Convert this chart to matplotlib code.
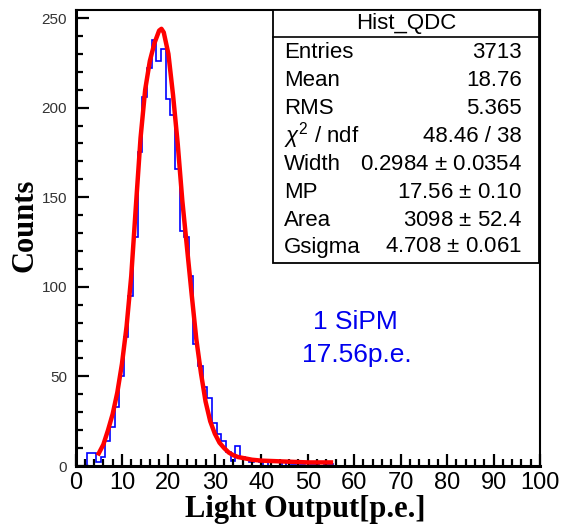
import numpy as np
import matplotlib
matplotlib.use('Agg')
import matplotlib.pyplot as plt
from matplotlib.patches import Rectangle
from matplotlib.ticker import MultipleLocator

# QDC spectrum in p.e., one bin per p.e. starting at 2.4
bin_start = 2.4
counts = [7, 7, 2, 5, 14, 22, 33, 50, 72, 95,
          128, 175, 206, 222, 238, 226, 233, 205, 196, 166,
          131, 128, 106, 68, 56, 44, 38, 24, 18, 14,
          8, 3, 11, 5, 4, 2, 3, 2, 0, 2,
          2, 3, 0, 2, 1, 2, 1, 2, 1, 1,
          0, 1, 1]

# Landau (x) Gauss fit curve over 5 - 55 p.e.
fit_x = [5, 6, 7, 8, 9, 10, 11, 12, 13, 14, 15, 16, 17, 18, 18.5, 19, 20, 21,
         22, 23, 24, 25, 26, 27, 28, 29, 30, 31, 32, 33, 34, 35, 36, 38, 40,
         45, 50, 55]
fit_y = [7, 12, 20, 29, 41, 57, 78, 106, 145, 183, 210, 226, 236, 243, 244,
         242, 230, 207, 180, 148, 122, 96, 71, 52, 36, 25, 18, 13, 10, 7.5,
         6, 5, 4.5, 3.5, 3, 2.5, 2, 2]

stat_names = ['Entries', 'Mean', 'RMS', r'$\chi^{2}$ / ndf', 'Width', 'MP',
              'Area', 'Gsigma']
stat_values = ['3713', '18.76', '5.365', '48.46 / 38', '0.2984 $\\pm$ 0.0354',
               '17.56 $\\pm$ 0.10', '3098 $\\pm$ 52.4', '4.708 $\\pm$ 0.061']

W, H = 561, 526
fig = plt.figure(figsize=(W / 100, H / 100), dpi=100)
fig.patch.set_facecolor('white')
plt.rcParams['mathtext.fontset'] = 'custom'
plt.rcParams['mathtext.rm'] = 'Liberation Sans'
plt.rcParams['mathtext.it'] = 'Liberation Sans:italic'

def fx(px):
    return px / W

def fy(py):
    return 1 - py / H

ax = fig.add_axes([fx(75.5), fy(466), fx(540) - fx(75.5), fy(10) - fy(466)])

edges = bin_start + np.arange(len(counts) + 1)
ax.stairs(counts, edges, color='#0000ff', lw=1.2)
ax.plot(fit_x, fit_y, color='#ff0000', lw=3.2, solid_joinstyle='round')

ax.set_xlim(0, 100)
ax.set_ylim(0, 254.5)
ax.xaxis.set_major_locator(MultipleLocator(10))
ax.xaxis.set_minor_locator(MultipleLocator(2))
ax.yaxis.set_major_locator(MultipleLocator(50))
ax.yaxis.set_minor_locator(MultipleLocator(10))
ax.tick_params(which='both', direction='in', top=False, right=False, width=1.6)
ax.tick_params(which='major', length=9)
ax.tick_params(which='minor', length=5)
ax.tick_params(axis='x', which='major', labelsize=17, pad=4)
ax.tick_params(axis='y', which='major', labelsize=11, pad=6, labelcolor='#333333')
for lab in ax.get_xticklabels() + ax.get_yticklabels():
    lab.set_family('Liberation Sans')

for side in ['left', 'bottom']:
    ax.spines[side].set_linewidth(2.2)
for side in ['top', 'right']:
    ax.spines[side].set_linewidth(1.5)

# axis titles, bold serif
fig.text(fx(305), fy(517), 'Light Output[p.e.]', family='Liberation Serif',
         weight='bold', fontsize=22, ha='center', va='baseline')
fig.text(fx(25), fy(225), 'Counts', family='Liberation Serif', weight='bold',
         fontsize=22, ha='center', va='center', rotation=90)

fig.text(fx(355), fy(322), '1 SiPM', color='#0000ee', fontsize=19,
         family='Liberation Sans', ha='center', va='center')
fig.text(fx(357), fy(355), '17.56p.e.', color='#0000ee', fontsize=19,
         family='Liberation Sans', ha='center', va='center')

# stats box
bx0, bx1, by0, by1 = 273, 539, 10, 263
fig.patches.append(Rectangle((fx(bx0), fy(by1)), fx(bx1) - fx(bx0), fy(by0) - fy(by1),
                             transform=fig.transFigure, facecolor='white',
                             edgecolor='black', lw=1.3, zorder=5))
fig.lines.append(plt.Line2D([fx(bx0), fx(bx1)], [fy(37), fy(37)],
                            transform=fig.transFigure, color='black', lw=1.2, zorder=6))
fig.text(fx((bx0 + bx1) / 2), fy(24), 'Hist_QDC', ha='center', va='center',
         fontsize=16, family='Liberation Sans', zorder=7)
row_y = [52, 80, 108, 136, 164, 193, 220, 247]
for name, val, yy in zip(stat_names, stat_values, row_y):
    fig.text(fx(284), fy(yy), name, ha='left', va='center', fontsize=16,
             family='Liberation Sans', zorder=7)
    fig.text(fx(522), fy(yy), val, ha='right', va='center', fontsize=16,
             family='Liberation Sans', zorder=7)

fig.savefig('out.png', dpi=100)
